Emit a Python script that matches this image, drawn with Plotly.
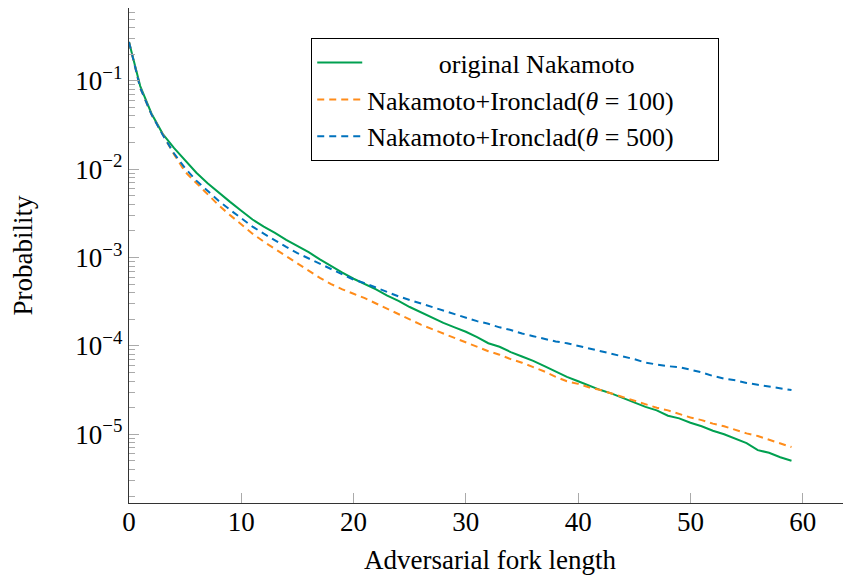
import plotly.graph_objects as go

# Adversarial fork length (x) and probabilities as log10 values
fork_length = list(range(0, 60))

original_log10 = [
    -0.56, -1.06, -1.37, -1.60, -1.76, -1.90, -2.04, -2.16, -2.27, -2.37,
    -2.47, -2.57, -2.65, -2.72, -2.80, -2.87, -2.94, -3.02, -3.10, -3.17,
    -3.24, -3.30, -3.36, -3.43, -3.49, -3.56, -3.62, -3.68, -3.74, -3.79,
    -3.84, -3.90, -3.97, -4.01, -4.07, -4.12, -4.17, -4.23, -4.29, -4.35,
    -4.40, -4.45, -4.50, -4.54, -4.59, -4.64, -4.69, -4.73, -4.79, -4.82,
    -4.87, -4.91, -4.96, -5.00, -5.05, -5.10, -5.18, -5.21, -5.26, -5.30,
]

ironclad100_log10 = [
    -0.56, -1.08, -1.38, -1.61, -1.83, -2.03, -2.155, -2.285, -2.41, -2.52,
    -2.63, -2.73, -2.82, -2.90, -2.98, -3.07, -3.15, -3.23, -3.30, -3.36,
    -3.41, -3.46, -3.52, -3.58, -3.64, -3.70, -3.76, -3.81, -3.86, -3.91,
    -3.96, -4.01, -4.06, -4.10, -4.15, -4.19, -4.24, -4.29, -4.35, -4.40,
    -4.43, -4.47, -4.50, -4.54, -4.58, -4.62, -4.66, -4.70, -4.73, -4.77,
    -4.81, -4.84, -4.88, -4.91, -4.95, -4.99, -5.02, -5.06, -5.10, -5.145,
]

ironclad500_log10 = [
    -0.56, -1.08, -1.38, -1.61, -1.82, -1.99, -2.13, -2.25, -2.36, -2.46,
    -2.56, -2.65, -2.73, -2.81, -2.88, -2.95, -3.01, -3.07, -3.13, -3.19,
    -3.25, -3.29, -3.34, -3.39, -3.44, -3.48, -3.52, -3.56, -3.60, -3.64,
    -3.68, -3.72, -3.75, -3.79, -3.82, -3.86, -3.89, -3.92, -3.95, -3.97,
    -4.00, -4.03, -4.06, -4.09, -4.12, -4.15, -4.19, -4.21, -4.23, -4.24,
    -4.27, -4.30, -4.34, -4.37, -4.39, -4.42, -4.44, -4.46, -4.48, -4.50,
]

series_names = [
    "original Nakamoto",
    "Nakamoto+Ironclad(<i>θ</i> = 100)",
    "Nakamoto+Ironclad(<i>θ</i> = 500)",
]

x_ticks = [0, 10, 20, 30, 40, 50, 60]
y_tick_vals = [1e-1, 1e-2, 1e-3, 1e-4, 1e-5]
y_tick_text = ["10<sup>−1</sup>", "10<sup>−2</sup>", "10<sup>−3</sup>",
               "10<sup>−4</sup>", "10<sup>−5</sup>"]

FONT = "Liberation Serif, Times New Roman, serif"
FS = 27

fig = go.Figure()
styles = [
    dict(color="#00A050", width=2.0, dash="solid"),
    dict(color="#FF8C1A", width=2.0, dash="7px,5px"),
    dict(color="#0072BD", width=2.0, dash="7px,5px"),
]
for i, (name, vals, st) in enumerate(zip(series_names,
                          [original_log10, ironclad100_log10, ironclad500_log10],
                          styles)):
    # pad legend labels with non-breaking spaces to mimic the centred first entry
    # and the wider legend box of the original
    if i == 0:
        label = "&nbsp;" * 11 + name
    else:
        label = name + "&nbsp;" * 6
    fig.add_trace(go.Scatter(
        x=fork_length, y=[10 ** v for v in vals], mode="lines",
        name=label, line=st,
    ))

# The page body adds an 8px offset, so the figure is sized to fit the window.
fig.update_layout(
    width=843, height=573,
    margin=dict(l=120.7, r=0, t=0, b=78.3, autoexpand=False),
    plot_bgcolor="white", paper_bgcolor="white",
    font=dict(family=FONT, size=FS, color="black"),
    showlegend=True,
    legend=dict(
        x=0.2524, y=0.939, xanchor="left", yanchor="top",
        bgcolor="white", bordercolor="black", borderwidth=1,
        font=dict(family=FONT, size=26),
        itemwidth=45, tracegroupgap=0,
    ),
)

fig.update_xaxes(
    range=[0, 64.3], tickvals=x_ticks, automargin=False,
    showline=True, linecolor="#333", linewidth=1.3, mirror=False,
    ticks="inside", ticklen=10, tickcolor="#aaa", tickwidth=1.2,
    ticklabelstandoff=-6,
    showgrid=False, zeroline=False,
    tickfont=dict(family=FONT, size=FS),
    title=dict(text="Adversarial fork length", font=dict(family=FONT, size=FS), standoff=14),
)
fig.update_yaxes(
    type="log", range=[-5.778, -0.176], automargin=False,
    tickvals=y_tick_vals, ticktext=y_tick_text,
    showline=True, linecolor="#333", linewidth=1.3, mirror=False,
    ticks="inside", ticklen=10, tickcolor="#aaa", tickwidth=1.2,
    minor=dict(ticks="inside", ticklen=6, tickcolor="#aaa", tickwidth=1.2, dtick="D1", showgrid=False),
    showgrid=False, zeroline=False,
    tickfont=dict(family=FONT, size=FS),
    title=dict(text="Probability", font=dict(family=FONT, size=FS), standoff=40),
)

fig.write_html("out.html")
